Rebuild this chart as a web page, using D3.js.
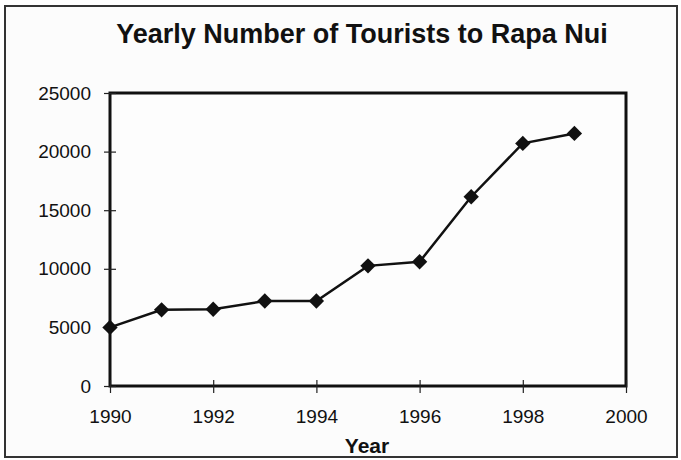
<!DOCTYPE html>
<html>
<head>
<meta charset="utf-8">
<script src="https://cdn.jsdelivr.net/npm/d3@7"></script>
<style>
  body { margin: 0; background: #fff; }
  text { font-family: "Liberation Sans", Arial, sans-serif; fill: #111; }
</style>
</head>
<body>
<svg width="681" height="460"></svg>
<script>
// data
let years = [1990, 1991, 1992, 1993, 1994, 1995, 1996, 1997, 1998, 1999];
let tourists = [5000, 6500, 6550, 7250, 7250, 10250, 10600, 16150, 20700, 21550];
let xTicks = [1990, 1992, 1994, 1996, 1998, 2000];
let yTicks = [0, 5000, 10000, 15000, 20000, 25000];

let svg = d3.select("svg"),
    width = +svg.attr("width"),
    height = +svg.attr("height");

let plotLeft = 110, plotRight = 626, plotTop = 93, plotBottom = 386;

// outer frame
svg.append("rect")
    .attr("x", 5).attr("y", 6)
    .attr("width", 672).attr("height", 451)
    .attr("fill", "#fcfcfc")
    .attr("stroke", "#333")
    .attr("stroke-width", 2);

let x = d3.scaleLinear().domain([1990, 2000]).range([plotLeft, plotRight]);
let y = d3.scaleLinear().domain([0, 25000]).range([plotBottom, plotTop]);

svg.append("text")
    .attr("x", 362).attr("y", 43)
    .attr("text-anchor", "middle")
    .attr("font-size", 27)
    .attr("font-weight", "bold")
    .attr("fill", "#1a1a1a")
    .text("Yearly Number of Tourists to Rapa Nui");

// plot frame
svg.append("rect")
    .attr("x", plotLeft).attr("y", plotTop)
    .attr("width", plotRight - plotLeft).attr("height", plotBottom - plotTop)
    .attr("fill", "#fdfdfd")
    .attr("stroke", "#111")
    .attr("stroke-width", 3);

// y axis
let yAxis = svg.append("g")
    .attr("transform", "translate(" + plotLeft + ",0)")
    .call(d3.axisLeft(y).tickValues(yTicks).tickSize(6).tickSizeOuter(0).tickFormat(d3.format("d")));
yAxis.select(".domain").remove();
yAxis.attr("font-size", 19).attr("font-family", "Liberation Sans, Arial, sans-serif");
yAxis.selectAll(".tick line").attr("x2", 6).attr("x1", -6).attr("stroke", "#222").attr("stroke-width", 1.2);
yAxis.selectAll(".tick text").attr("x", -19).attr("fill", "#111");

// x axis
let xAxis = svg.append("g")
    .attr("transform", "translate(0," + plotBottom + ")")
    .call(d3.axisBottom(x).tickValues(xTicks).tickSizeOuter(0).tickFormat(d3.format("d")));
xAxis.select(".domain").remove();
xAxis.attr("font-size", 19).attr("font-family", "Liberation Sans, Arial, sans-serif");
xAxis.selectAll(".tick line").attr("y1", -6).attr("y2", 7).attr("stroke", "#222").attr("stroke-width", 1.2);
xAxis.selectAll(".tick text").attr("y", 24).attr("fill", "#111");

svg.append("text")
    .attr("x", 367).attr("y", 453)
    .attr("text-anchor", "middle")
    .attr("font-size", 21)
    .attr("font-weight", "bold")
    .text("Year");

let line = d3.line()
    .x((d, i) => x(years[i]))
    .y(d => y(d));

svg.append("path")
    .datum(tourists)
    .attr("fill", "none")
    .attr("stroke", "#111")
    .attr("stroke-width", 2.5)
    .attr("d", line);

svg.append("g")
    .selectAll("path")
    .data(tourists)
    .join("path")
    .attr("d", d3.symbol().type(d3.symbolDiamond2).size(150))
    .attr("transform", (d, i) => "translate(" + x(years[i]) + "," + y(d) + ")")
    .attr("fill", "#111");
</script>
</body>
</html>
